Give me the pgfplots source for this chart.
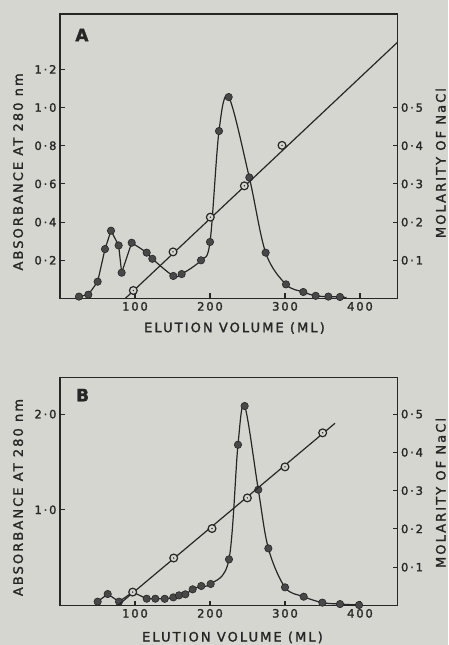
\documentclass[border=0pt]{standalone}
\usepackage{fontspec}
\setmainfont[LetterSpace=16, FakeBold=1.6]{DejaVu Sans}
\usepackage{pgfplots}
\pgfplotsset{compat=1.18}
\definecolor{paper}{RGB}{214,214,209}
\definecolor{ink}{RGB}{38,38,38}
\definecolor{dotfill}{RGB}{72,72,72}

\pgfdeclareplotmark{odot}{%
  \pgfpathcircle{\pgfpointorigin}{\pgfplotmarksize}%
  \pgfusepathqfillstroke
  \begin{pgfscope}\pgfsetfillcolor{ink}%
  \pgfpathcircle{\pgfpointorigin}{0.8pt}\pgfusepathqfill
  \end{pgfscope}}

\pgfplotsset{
  base/.style={
    scale only axis, width=337.5pt, xmin=0, xmax=450,
    axis line style={ink, line width=1.3pt},
    tick style={ink, line width=1.1pt},
    major tick length=5pt,
    tick label style={font=\fontsize{11.5}{12}\selectfont, text=ink},
    label style={font=\fontsize{13}{14}\selectfont, text=ink},
    clip=true,
  },
  absline/.style={ink, line width=1.2pt, no marks},
  absdots/.style={only marks, mark=*, mark size=3.7pt, mark options={fill=dotfill, draw=ink, line width=0.6pt}},
  molline/.style={ink, line width=1.2pt, no marks},
  moldots/.style={only marks, mark=odot, mark size=3.9pt, mark options={fill=paper, draw=ink, line width=1.2pt}},
}

\begin{document}
\begin{tikzpicture}[x=1pt,y=1pt]
\fill[paper] (0,0) rectangle (448,645);
\path[use as bounding box] (0,0) rectangle (448,645);

% ---------------- Panel A ----------------
\begin{axis}[base, at={(60pt,346.5pt)}, anchor=south west, height=284.5pt,
  ymin=0, ymax=1.49,
  xtick={100,200,300,400}, xticklabels={100,200,300,400},
  ytick={0.2,0.4,0.6,0.8,1.0,1.2}, yticklabels={0·2,0·4,0·6,0·8,1·0,1·2},
  xtick pos=left, ytick pos=left,
  xlabel={ELUTION VOLUME (ML)},
  xlabel style={at={(axis description cs:0.517,-0.104)}, anchor=center},
  ylabel={ABSORBANCE AT 280 nm},
  ylabel style={at={(axis description cs:-0.124,0.445)}, anchor=center},
]
\addplot[absline, sharp plot] coordinates {
 (25.3,0.010) (37.8,0.020) (50.2,0.088) (60.0,0.259) (68.0,0.355)
 (78.2,0.278) (82.2,0.135) (95.6,0.292)};
\addplot[absline, smooth, tension=0.55] coordinates {
 (95.6,0.292) (115.6,0.240) (123.1,0.208) (151.1,0.118) (162.2,0.128)
 (188.0,0.200) (200.0,0.296) (212.0,0.877) (224.9,1.055) (252.4,0.634)
 (274.2,0.240) (301.3,0.074) (324.4,0.034) (340.9,0.014) (357.8,0.010)
 (373.3,0.008) (382,0.005)};
\addplot[absdots] coordinates {
 (25.3,0.010) (37.8,0.020) (50.2,0.088) (60.0,0.259) (68.0,0.355)
 (78.2,0.278) (82.2,0.135) (95.6,0.292) (115.6,0.240) (123.1,0.208)
 (151.1,0.118) (162.2,0.128) (188.0,0.200) (200.0,0.296) (212.0,0.877)
 (224.9,1.055) (252.4,0.634) (274.2,0.240) (301.3,0.074) (324.4,0.034)
 (340.9,0.014) (357.8,0.010) (373.3,0.008)};
\node[font=\fontsize{17}{18}\selectfont\bfseries, text=ink] at (axis description cs:0.065,0.926) {A};
\end{axis}
\begin{axis}[base, at={(60pt,346.5pt)}, anchor=south west, height=284.5pt,
  ymin=0, ymax=0.745,
  axis y line*=right, axis x line=none,
  ytick={0.1,0.2,0.3,0.4,0.5}, yticklabels={0·1,0·2,0·3,0·4,0·5},
  ylabel={MOLARITY OF NaCl},
  ylabel style={at={(axis description cs:1.128,0.476)}, anchor=center},
]
\addplot[molline] coordinates {(87,0) (450,0.671)};
\addplot[moldots] coordinates {
 (97.8,0.021) (150.7,0.122) (200.4,0.213) (245.8,0.295) (296.0,0.401)};
\end{axis}

% ---------------- Panel B ----------------
\begin{axis}[base, at={(60pt,39.5pt)}, anchor=south west, height=228.2pt,
  ymin=0, ymax=2.385,
  xtick={100,200,300,400}, xticklabels={100,200,300,400},
  ytick={1.0,2.0}, yticklabels={1·0,2·0},
  xtick pos=left, ytick pos=left,
  xlabel={ELUTION VOLUME (ML)},
  xlabel style={at={(axis description cs:0.511,-0.140)}, anchor=center},
  ylabel={ABSORBANCE AT 280 nm},
  ylabel style={at={(axis description cs:-0.124,0.473)}, anchor=center},
]
\addplot[absline, sharp plot] coordinates {
 (50.2,0.04) (63.6,0.12) (78.7,0.04) (97,0.14) (115.6,0.071)};
\addplot[absline, smooth, tension=0.55] coordinates {
 (115.6,0.071) (127.1,0.071) (139.6,0.070) (151.1,0.085) (158.7,0.106)
 (167.1,0.117) (176.9,0.169) (188.4,0.204) (200.9,0.225) (225.3,0.482)
 (237.3,1.68) (246.2,2.085) (264.4,1.21) (277.8,0.597) (300.0,0.190)
 (324.9,0.092) (349.8,0.030) (373.3,0.015) (398.7,0.005)};
\addplot[absdots] coordinates {
 (50.2,0.04) (63.6,0.12) (78.7,0.04) (115.6,0.071) (127.1,0.071)
 (139.6,0.070) (151.1,0.085) (158.7,0.106) (167.1,0.117) (176.9,0.169)
 (188.4,0.204) (200.9,0.225) (225.3,0.482) (237.3,1.68) (246.2,2.085)
 (264.4,1.21) (277.8,0.597) (300.0,0.190) (324.9,0.092) (349.8,0.030)
 (373.3,0.015) (398.7,0.005)};
\node[font=\fontsize{17}{18}\selectfont\bfseries, text=ink] at (axis description cs:0.067,0.922) {B};
\end{axis}
\begin{axis}[base, at={(60pt,39.5pt)}, anchor=south west, height=228.2pt,
  ymin=0, ymax=0.596,
  axis y line*=right, axis x line=none,
  ytick={0.1,0.2,0.3,0.4,0.5}, yticklabels={0·1,0·2,0·3,0·4,0·5},
  ylabel={MOLARITY OF NaCl},
  ylabel style={at={(axis description cs:1.128,0.493)}, anchor=center},
]
\addplot[molline] coordinates {(77,0) (366.7,0.476)};
\addplot[moldots] coordinates {
 (96.9,0.035) (151.6,0.124) (202.7,0.201) (249.8,0.281) (300.0,0.362) (350.2,0.451)};
\end{axis}
\end{tikzpicture}
\end{document}
